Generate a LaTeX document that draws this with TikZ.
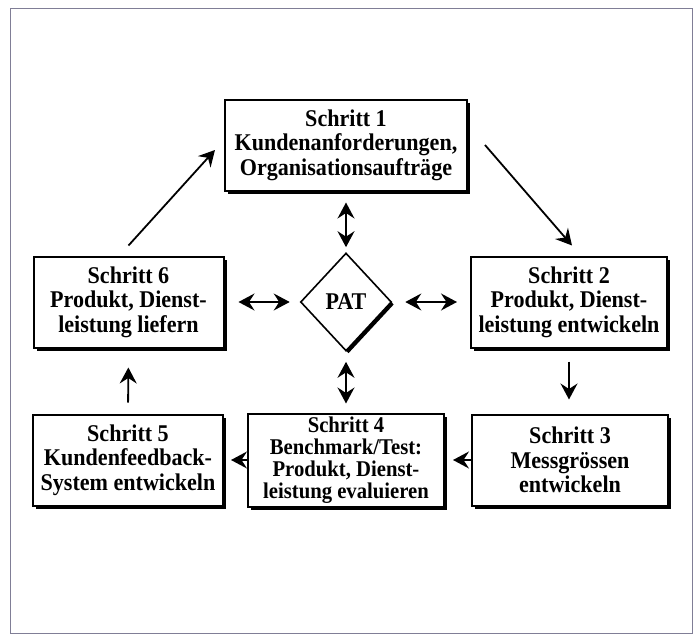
\documentclass[tikz,border=0pt]{standalone}
\usepackage{fontspec}
\setmainfont{Liberation Serif}[FakeStretch=0.92]
\usepackage{tikz}
\usetikzlibrary{positioning}
\usetikzlibrary{shapes.geometric}
\usetikzlibrary{shadows}
\usetikzlibrary{arrows.meta}
\definecolor{framegray}{RGB}{128,126,150}
\tikzstyle{block} = [draw, rectangle, line width=2pt, fill=white, align=center, minimum height=91pt, inner sep=2pt, font=\fontsize{24}{24.5}\selectfont\bfseries, drop shadow={shadow xshift=3pt, shadow yshift=-3pt, fill=black, opacity=1}]
\tikzstyle{decision} = [draw, diamond, line width=1.6pt, fill=white, minimum width=91pt, minimum height=98pt, inner sep=0pt, font=\fontsize{24}{24}\selectfont\bfseries, drop shadow={shadow xshift=2.5pt, shadow yshift=-2.5pt, fill=black, opacity=1}]
\tikzstyle{arr} = [-{Stealth[length=16pt,width=17pt,inset=5.5pt]}, line width=1.8pt]
\tikzstyle{darr} = [{Stealth[length=16pt,width=17pt,inset=5.5pt]}-{Stealth[length=16pt,width=17pt,inset=5.5pt]}, line width=1.8pt]
\begin{document}
\begin{tikzpicture}[x=1pt, y=-1pt, on grid]
    \useasboundingbox (0,0) rectangle (693,634);
    \draw [framegray, line width=0.8pt] (10,8) rectangle (692,633);

    \node [decision] (pat) at (346,302) {PAT};
    \node [block, above=157pt of pat, minimum width=242pt] (s1) {Schritt 1\\Kundenanforderungen,\\Organisationsaufträge};
    \node [block, right=223pt of pat, minimum width=196pt] (s2) {Schritt 2\\Produkt, Dienst-\\leistung entwickeln};
    \node [block, below=158pt of pat, minimum width=196pt, minimum height=93pt, inner sep=1pt, font=\fontsize{22.5}{22}\selectfont\bfseries] (s4) {Schritt 4\\Benchmark/Test:\\Produkt, Dienst-\\leistung evaluieren};
    \node [block, right=224pt of s4, minimum width=196pt] (s3) {Schritt 3\\Messgrössen\\entwickeln};
    \node [block, left=218pt of s4, minimum width=190pt] (s5) {Schritt 5\\Kundenfeedback-\\System entwickeln};
    \node [block, left=217.5pt of pat, minimum width=190pt] (s6) {Schritt 6\\Produkt, Dienst-\\leistung liefern};

    \draw [arr] ([yshift=10pt]s6.north) -- ([xshift=-9pt,yshift=-5pt]s1.west);
    \draw [arr] ([xshift=17pt]s1.east) -- ([xshift=3pt,yshift=10pt]s2.north);
    \draw [arr, shorten <=13pt, shorten >=14pt] (s2.south) -- (s2.south |- s3.north);
    \draw [arr, shorten >=8pt] (s3.west) -- (s4.east);
    \draw [arr, shorten >=7pt] (s4.west) -- (s5.east);
    \draw [arr, shorten <=11pt, shorten >=19pt] (s5.north) -- (s6.south);

    \draw [darr, shorten <=11pt, shorten >=5pt] (s1.south) -- (s1.south |- pat.north);
    \draw [darr, shorten <=10pt, shorten >=9pt] (pat.south) -- (pat.south |- s4.north);
    \draw [darr, shorten <=14pt, shorten >=10pt] (s6.east) -- (pat.west);
    \draw [darr, shorten <=13pt, shorten >=13pt] (pat.east) -- (s2.west);
\end{tikzpicture}
\end{document}
